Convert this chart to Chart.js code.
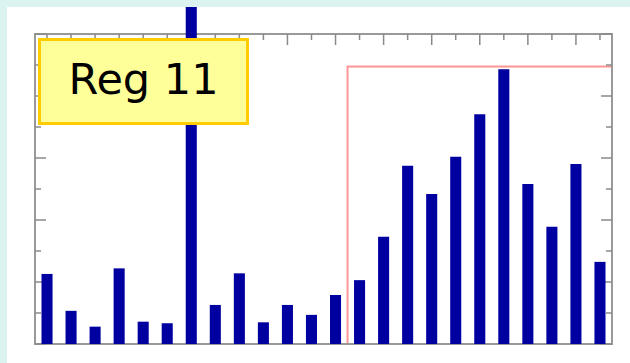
<!DOCTYPE html>
<html>
<head>
<meta charset="utf-8">
<script src="https://cdn.jsdelivr.net/npm/chart.js@4/dist/chart.umd.min.js"></script>
<style>
  html, body { margin: 0; padding: 0; }
  body { width: 630px; height: 363px; background: #dcf4f1; position: relative; overflow: hidden; }
  #panel { position: absolute; left: 7px; top: 7px; width: 623px; height: 356px; background: #ffffff; overflow: hidden; }
  #c { position: absolute; left: 0; top: 0; }
  #label { position: absolute; left: 38px; top: 38px; width: 211px; height: 87px; box-sizing: border-box;
           border: 3px solid #ffcc00; background: #ffff99; font-family: "DejaVu Sans", sans-serif;
           font-size: 43px; color: #000; text-align: center; line-height: 76px; }
</style>
</head>
<body>
<div id="panel"><canvas id="c" width="623" height="356"></canvas></div>
<div id="label">Reg 11</div>
<script>
const categories = ['1','2','3','4','5','6','7','8','9','10','11','12','13','14','15','16','17','18','19','20','21','22','23','24'];
const values = [22.6, 10.7, 5.6, 24.4, 7.2, 6.7, 125, 12.6, 22.8, 7.0, 12.6, 9.4, 15.8, 20.6, 34.6, 57.5, 48.4, 60.4, 74.1, 88.6, 51.6, 37.8, 58.1, 26.5];
const yMajorTicks = [0, 20, 40, 60, 80, 100];
const yMinorTicks = [10, 30, 50, 70, 90];
const highlightFirst = 13;
const highlightLast = 23;
const highlightTop = 89.5;

const framePlugin = {
  id: 'frame',
  beforeDatasetsDraw(chart) {
    const ctx = chart.ctx, a = chart.chartArea;
    const xs = chart.scales.x, ys = chart.scales.y;
    ctx.save();
    // highlight rectangle
    const hx1 = (xs.getPixelForValue(highlightFirst - 1) + xs.getPixelForValue(highlightFirst)) / 2;
    const hx2 = a.right;
    const hy = ys.getPixelForValue(highlightTop);
    ctx.strokeStyle = 'rgba(255,130,130,0.85)';
    ctx.lineWidth = 2;
    ctx.strokeRect(hx1, hy, hx2 - hx1, ys.getPixelForValue(0) - hy);
    // frame
    ctx.strokeStyle = '#999999';
    ctx.lineWidth = 2;
    ctx.strokeRect(a.left, a.top, a.right - a.left, a.bottom - a.top);
    // ticks
    ctx.lineWidth = 1.5;
    ctx.strokeStyle = '#8a8a8a';
    ctx.beginPath();
    yMajorTicks.forEach(v => {
      const y = ys.getPixelForValue(v);
      ctx.moveTo(a.left, y); ctx.lineTo(a.left + 11, y);
      ctx.moveTo(a.right, y); ctx.lineTo(a.right - 11, y);
    });
    yMinorTicks.forEach(v => {
      const y = ys.getPixelForValue(v);
      ctx.moveTo(a.left, y); ctx.lineTo(a.left + 6, y);
      ctx.moveTo(a.right, y); ctx.lineTo(a.right - 6, y);
    });
    categories.forEach((c, i) => {
      const x = xs.getPixelForValue(i);
      const len = (i % 2 === 0) ? 11 : 6;
      ctx.moveTo(x, a.top); ctx.lineTo(x, a.top + len);
    });
    ctx.stroke();
    ctx.restore();
  }
};

new Chart(document.getElementById('c'), {
  type: 'bar',
  data: {
    labels: categories,
    datasets: [{
      data: values,
      backgroundColor: '#0000a0',
      borderWidth: 0,
      barPercentage: 0.46,
      categoryPercentage: 1.0,
      clip: false
    }]
  },
  options: {
    responsive: false,
    animation: false,
    devicePixelRatio: 1,
    layout: { padding: { left: 28, top: 27, right: 18, bottom: 19 } },
    plugins: { legend: { display: false }, tooltip: { enabled: false } },
    scales: {
      x: { display: false, offset: true },
      y: { display: false, min: 0, max: 100 }
    }
  },
  plugins: [framePlugin]
});
</script>
</body>
</html>
